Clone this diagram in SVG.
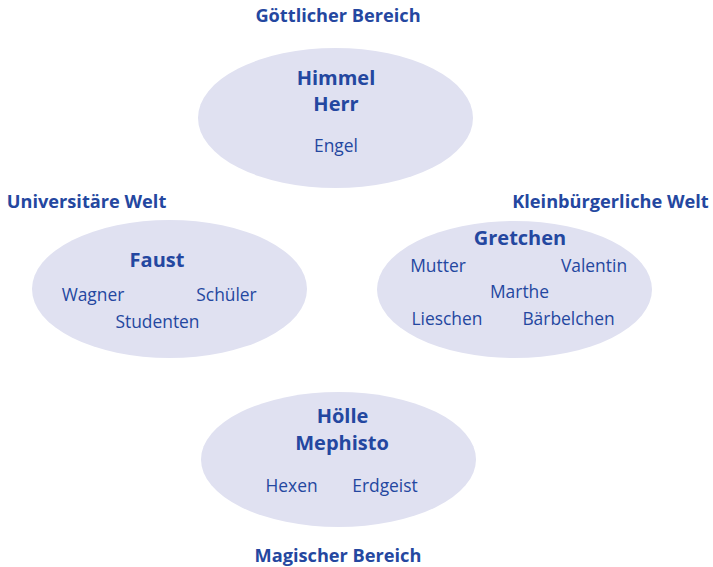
<svg xmlns="http://www.w3.org/2000/svg" width="713" height="567" viewBox="0 0 713 567">
<style>
text{font-family:"Open Sans","Noto Sans","Liberation Sans",sans-serif;fill:#2447a0;text-anchor:middle}
.h{font-weight:bold;font-size:18.2px}
.t{font-weight:bold;font-size:20px}
.r{font-size:17.4px}
ellipse{fill:#e0e1f1}
</style>
<rect width="713" height="567" fill="#ffffff"/>
<g id="connectors"></g>
<g id="goettlich">
<text class="h" x="338" y="22">Göttlicher Bereich</text>
<ellipse cx="335.5" cy="118" rx="137.5" ry="70"/>
<text class="t" x="336" y="85">Himmel</text>
<text class="t" x="336" y="111">Herr</text>
<text class="r" x="336" y="152">Engel</text>
</g>
<g id="universitaer">
<text class="h" x="86.5" y="208">Universitäre Welt</text>
<ellipse cx="169.5" cy="289" rx="137.5" ry="69"/>
<text class="t" x="157" y="267">Faust</text>
<text class="r" x="93" y="301">Wagner</text>
<text class="r" x="226.5" y="301">Schüler</text>
<text class="r" x="157.5" y="328">Studenten</text>
</g>
<g id="kleinbuergerlich">
<text class="h" x="610.5" y="208">Kleinbürgerliche Welt</text>
<ellipse cx="514.5" cy="289.5" rx="137.5" ry="68.5"/>
<text class="t" x="520" y="245">Gretchen</text>
<text class="r" x="438" y="272">Mutter</text>
<text class="r" x="594" y="272">Valentin</text>
<text class="r" x="519.5" y="298">Marthe</text>
<text class="r" x="447" y="325">Lieschen</text>
<text class="r" x="568.5" y="325">Bärbelchen</text>
</g>
<g id="magisch">
<ellipse cx="338.5" cy="459.5" rx="137.5" ry="67.5"/>
<text class="t" x="342.5" y="423">Hölle</text>
<text class="t" x="342" y="450">Mephisto</text>
<text class="r" x="291.5" y="492">Hexen</text>
<text class="r" x="385" y="492">Erdgeist</text>
<text class="h" x="338" y="562">Magischer Bereich</text>
</g>
</svg>
